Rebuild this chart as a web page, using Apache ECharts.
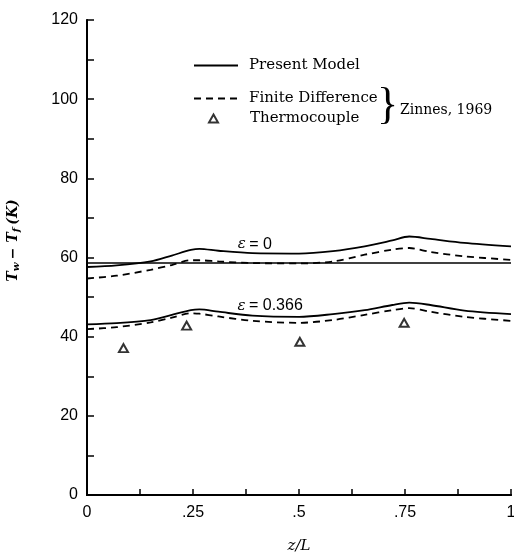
<!DOCTYPE html>
<html>
<head>
<meta charset="utf-8">
<script src="https://cdn.jsdelivr.net/npm/echarts@6/dist/echarts.min.js"></script>
<style>
  html, body { margin: 0; background: #fff; }
  #chart { width: 514px; height: 555px; }
</style>
</head>
<body>
<div id="chart"></div>
<script>
const zL = [0, 0.07, 0.15, 0.2, 0.245, 0.265, 0.31, 0.39, 0.5, 0.58, 0.655, 0.72, 0.76, 0.81, 0.89, 1.0];
// Tw - Tf (K), present model
const modelEps0 = [57.6, 58.0, 59.0, 60.5, 61.9, 62.2, 61.7, 61.1, 61.0, 61.6, 62.8, 64.3, 65.3, 64.7, 63.7, 62.8];
const modelEps366 = [43.1, 43.4, 44.2, 45.5, 46.7, 46.9, 46.3, 45.3, 45.0, 45.7, 46.7, 48.0, 48.6, 48.0, 46.6, 45.7];
// finite difference (Zinnes, 1969)
const fdEps0 = [54.7, 55.4, 56.9, 58.1, 59.3, 59.3, 59.0, 58.6, 58.5, 59.0, 60.7, 62.0, 62.4, 61.4, 60.3, 59.4];
const fdEps366 = [41.9, 42.4, 43.6, 44.8, 45.9, 45.8, 45.1, 44.0, 43.5, 44.2, 45.5, 46.7, 47.2, 46.3, 45.0, 44.0];
// thermocouple readings
const thermoZ = [0.086, 0.235, 0.502, 0.748];
const thermoT = [37.1, 42.8, 38.7, 43.5];
// stray horizontal line on the scan
const scanLine = 58.6;

const sans = "Liberation Sans";
const serif = "DejaVu Serif";

function pairs(ys) {
  return zL.map((z, i) => [z, ys[i]]);
}

// x labels: 0, .25, .5, .75, 1 (ticks every .125)
function xLabel(v) {
  if (v === 0) return "0";
  if (v === 1) return "1";
  if (Math.abs(v * 4 - Math.round(v * 4)) < 1e-6) return String(+v.toFixed(3)).replace("0.", ".");
  return "";
}

const chart = echarts.init(document.getElementById("chart"));

const legendBase = {
  left: 193,
  padding: 0,
  orient: "vertical",
  itemWidth: 44,
  itemHeight: 14,
  selectedMode: false,
  itemStyle: { opacity: 0 },
  textStyle: { fontFamily: serif, fontSize: 15, color: "#000", padding: [0, 0, 0, 6] }
};

const solid = { color: "#000", width: 1.8, type: "solid" };
const dashed = { color: "#000", width: 1.8, type: [7, 5] };

chart.setOption({
  animation: false,
  backgroundColor: "#fff",
  grid: { left: 87, right: 3, top: 20, bottom: 60, outerBoundsMode: "none" },
  legend: [
    Object.assign({}, legendBase, { top: 58, data: ["Present Model"] }),
    Object.assign({}, legendBase, { top: 91, data: ["Finite Difference"] }),
    Object.assign({}, legendBase, {
      left: 208, top: 111, itemWidth: 9, itemHeight: 8,
      itemStyle: {},
      textStyle: { fontFamily: serif, fontSize: 15, color: "#000", padding: [0, 0, 0, 27] },
      data: ["Thermocouple"]
    })
  ],
  graphic: [
    { type: "text", left: 377, top: 84, style: { text: "}", font: "44px 'Liberation Serif'", fill: "#000" } },
    { type: "text", left: 400, top: 103, style: { text: "Zinnes, 1969", font: "14px 'DejaVu Serif'", fill: "#000" } }
  ],
  xAxis: [
    {
      type: "value", min: 0, max: 1, interval: 0.125,
      name: "z/L", nameLocation: "middle", nameGap: 44,
      nameTextStyle: { fontFamily: serif, fontStyle: "italic", fontSize: 15, color: "#000" },
      axisLine: { lineStyle: { color: "#000", width: 2 } },
      axisTick: { inside: true, length: 6, lineStyle: { color: "#000", width: 1.5 } },
      axisLabel: { formatter: xLabel, margin: 10, fontFamily: sans, fontSize: 16, color: "#000" },
      splitLine: { show: false }
    },
    {
      type: "value", min: 0, max: 1, position: "top",
      axisLine: { show: true, lineStyle: { color: "#000", width: 2 } },
      axisTick: { show: false }, axisLabel: { show: false }, splitLine: { show: false }
    }
  ],
  yAxis: [
    {
      type: "value", min: 0, max: 120, interval: 10,
      name: "{t|T}{s|w} {t|− T}{s|f} {t|(K)}",
      nameLocation: "middle", nameGap: 66,
      nameTextStyle: {
        padding: [0, 0, 0, 34],
        rich: {
          t: { fontFamily: serif, fontWeight: "bold", fontStyle: "italic", fontSize: 14, color: "#000" },
          s: { fontFamily: serif, fontWeight: "bold", fontStyle: "italic", fontSize: 10, color: "#000", verticalAlign: "bottom", padding: [6, 0, 0, 0] }
        }
      },
      axisLine: { lineStyle: { color: "#000", width: 1.5, type: [9, 3] } },
      axisTick: { inside: true, length: 7, lineStyle: { color: "#000", width: 1.5 } },
      axisLabel: { formatter: v => (v % 20 === 0 ? String(v) : ""), margin: 9, fontFamily: sans, fontSize: 16, color: "#000" },
      splitLine: { show: false }
    },
    {
      type: "value", min: 0, max: 120, position: "right",
      axisLine: { show: true, lineStyle: { color: "#000", width: 2 } },
      axisTick: { show: false }, axisLabel: { show: false }, splitLine: { show: false }
    }
  ],
  series: [
    {
      name: "Present Model", type: "line", data: pairs(modelEps0),
      smooth: 0.3, symbol: "none", lineStyle: solid, itemStyle: { color: "#000" },
      markPoint: {
        symbol: "rect", symbolSize: 0, silent: true,
        label: {
          show: true, position: "inside", formatter: "{e|ε} {o|= 0}",
          rich: {
            e: { fontFamily: serif, fontStyle: "italic", fontSize: 15, color: "#000" },
            o: { fontFamily: sans, fontSize: 16, color: "#000" }
          }
        },
        data: [{ coord: [0.396, 63.3] }]
      }
    },
    {
      name: "Present Model", type: "line", data: pairs(modelEps366),
      smooth: 0.3, symbol: "none", lineStyle: solid, itemStyle: { color: "#000" },
      markPoint: {
        symbol: "rect", symbolSize: 0, silent: true,
        label: {
          show: true, position: "inside", formatter: "{e|ε} {o|= 0.366}",
          rich: {
            e: { fontFamily: serif, fontStyle: "italic", fontSize: 15, color: "#000" },
            o: { fontFamily: sans, fontSize: 16, color: "#000" }
          }
        },
        data: [{ coord: [0.432, 47.8] }]
      }
    },
    {
      name: "Finite Difference", type: "line", data: pairs(fdEps0),
      smooth: 0.3, symbol: "none", lineStyle: dashed, itemStyle: { color: "#000" },
      markLine: {
        silent: true, symbol: "none", label: { show: false },
        lineStyle: { color: "#000", width: 1.6, type: "solid" },
        data: [{ yAxis: scanLine }]
      }
    },
    {
      name: "Finite Difference", type: "line", data: pairs(fdEps366),
      smooth: 0.3, symbol: "none", lineStyle: dashed, itemStyle: { color: "#000" }
    },
    {
      name: "Thermocouple", type: "scatter",
      data: thermoZ.map((z, i) => [z, thermoT[i]]),
      symbol: "emptyTriangle", symbolSize: [9, 8],
      itemStyle: { color: "#000", borderColor: "#000", borderWidth: 1.8 }
    }
  ]
});
</script>
</body>
</html>
